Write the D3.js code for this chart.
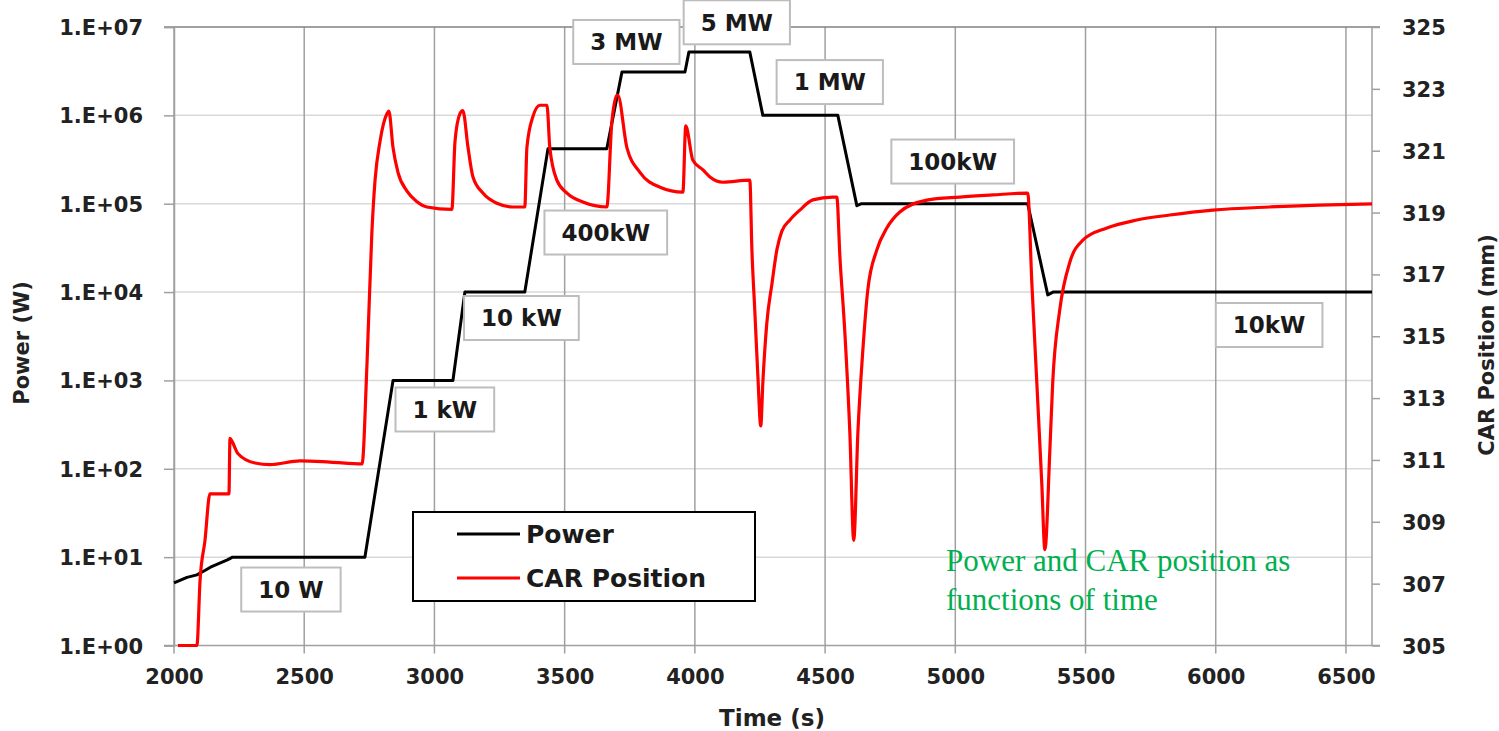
<!DOCTYPE html>
<html>
<head>
<meta charset="utf-8">
<script src="https://cdnjs.cloudflare.com/ajax/libs/d3/7.8.5/d3.min.js"></script>
<style>
    body { margin: 0; background: #fff; }
    .tick-label { font-family: "DejaVu Sans", sans-serif; font-weight: bold; font-size: 21px; fill: #222; }
    .axis-title { font-family: "DejaVu Sans", sans-serif; font-weight: bold; font-size: 21px; fill: #222; }
    .note { font-family: "DejaVu Sans", sans-serif; font-weight: bold; font-size: 23px; fill: #1a1a1a; }
</style>
</head>
<body>
<div id="chart"></div>
<script>
// Time axis (s)
const timeTicks = [2000, 2500, 3000, 3500, 4000, 4500, 5000, 5500, 6000, 6500];
// Power axis (W), log scale
const powerTicks = [1, 1e1, 1e2, 1e3, 1e4, 1e5, 1e6, 1e7];
// CAR position axis (mm)
const carTicks = [305, 307, 309, 311, 313, 315, 317, 319, 321, 323, 325];

// Power (W): [time, watts]
const powerSeries = [
    [2000, 5.1], [2050, 5.9], [2088, 6.3], [2120, 7.1], [2140, 7.7], [2205, 9.3], [2225, 10],
    [2733, 10], [2787, 100], [2841, 1000],
    [3071, 1000], [3117, 10000],
    [3347, 10000], [3436, 4.2e5],
    [3662, 4.2e5], [3720, 3.1e6],
    [3962, 3.1e6], [3977, 5.2e6],
    [4211, 5.2e6], [4261, 1.0e6],
    [4549, 1.0e6], [4622, 9.5e4], [4640, 1.0e5],
    [5278, 1.0e5], [5355, 9.3e3], [5375, 1.0e4],
    [6600, 1.0e4]
];

// CAR position (mm): [time, mm]
const carSeries = [
    [2015, 305.0], [2088, 305.0], [2100, 307.1], [2119, 308.4], [2138, 309.9], [2211, 309.9],
    [2215, 311.7], [2223, 311.6], [2246, 311.2], [2311, 310.9], [2369, 310.85], [2484, 310.97],
    [2599, 310.93], [2722, 310.87], [2741, 314.1], [2760, 318.4], [2772, 320.05], [2791, 321.3],
    [2818, 322.2], [2825, 322.28], [2841, 321.1], [2860, 320.3], [2894, 319.7], [2933, 319.35],
    [2971, 319.18], [3067, 319.1], [3079, 321.3], [3098, 322.2], [3109, 322.3], [3129, 321.1],
    [3148, 320.15], [3186, 319.63], [3240, 319.3], [3301, 319.18], [3347, 319.18], [3355, 321.1],
    [3378, 322.1], [3405, 322.47], [3432, 322.47], [3443, 321.1], [3470, 320.05], [3509, 319.63],
    [3570, 319.34], [3662, 319.18], [3681, 321.9], [3701, 322.8], [3704, 322.8], [3739, 321.1],
    [3789, 320.3], [3866, 319.82], [3954, 319.66], [3965, 321.8], [3992, 320.7], [4031, 320.38],
    [4058, 320.15], [4108, 319.98], [4211, 320.05], [4219, 317.8], [4230, 315.85], [4242, 313.7],
    [4253, 312.1], [4261, 313.5], [4276, 315.4], [4296, 316.7], [4315, 317.8], [4334, 318.4],
    [4365, 318.76], [4403, 319.08], [4453, 319.41], [4530, 319.5], [4545, 319.5], [4557, 317.56],
    [4576, 315.1], [4595, 311.9], [4610, 308.4], [4626, 311.9], [4645, 314.55], [4664, 316.5],
    [4699, 317.8], [4737, 318.5], [4787, 319.02], [4891, 319.4], [5017, 319.5], [5144, 319.57],
    [5278, 319.63], [5294, 316.7], [5313, 313.5], [5332, 310.25], [5344, 308.1], [5363, 311.3],
    [5374, 313.5], [5401, 315.85], [5440, 317.4], [5489, 318.1], [5582, 318.5], [5697, 318.76],
    [5823, 318.92], [5989, 319.08], [6207, 319.18], [6399, 319.24], [6600, 319.28]
];

// Level labels: text, anchor time, anchor power (box centre)
const levelText = ["10 W", "1 kW", "10 kW", "400kW", "3 MW", "5 MW", "1 MW", "100kW", "10kW"];
const levelTime = [2449, 3040, 3334, 3658, 3737, 4161, 4518, 4990, 6205];
const levelPower = [4.3, 469, 5085, 4.72e4, 6.77e6, 1.13e7, 2.38e6, 3.0e5, 4240];

const seriesNames = ["Power", "CAR Position"];
const seriesColors = ["#000000", "#ff0000"];

class PowerCarChart {

    constructor(config) {
        this.config = config;
        this.configureVis();
    }

    configureVis() {
        const vis = this;
        const c = vis.config;

        vis.svg = d3.select(c.parentElement).append("svg")
            .attr("width", c.containerWidth)
            .attr("height", c.containerHeight);

        vis.xScale = d3.scaleLinear().domain([2000, 6600]).range([c.left, c.right]);
        vis.yPower = d3.scaleLog().domain([1, 1e7]).range([c.bottom, c.top]);
        vis.yCar = d3.scaleLinear().domain([305, 325]).range([c.bottom, c.top]);

        vis.renderVis();
    }

    renderVis() {
        const vis = this;
        const c = vis.config;

        // horizontal gridlines (light)
        vis.svg.append("g").selectAll("line")
            .data(powerTicks.slice(1, -1))
            .join("line")
            .attr("x1", c.left).attr("x2", c.right)
            .attr("y1", d => vis.yPower(d)).attr("y2", d => vis.yPower(d))
            .attr("stroke", "#d9d9d9").attr("stroke-width", 1.5);

        // vertical gridlines (darker), running past the bottom as tick marks
        vis.svg.append("g").selectAll("line")
            .data(timeTicks)
            .join("line")
            .attr("x1", d => vis.xScale(d)).attr("x2", d => vis.xScale(d))
            .attr("y1", c.top).attr("y2", c.bottom + 8)
            .attr("stroke", "#a0a0a0").attr("stroke-width", 1.5);

        // frame
        vis.svg.append("line")
            .attr("x1", c.left - 10).attr("x2", c.right + 8)
            .attr("y1", c.top).attr("y2", c.top)
            .attr("stroke", "#808080").attr("stroke-width", 1.5);
        vis.svg.append("line")
            .attr("x1", c.left - 10).attr("x2", c.right + 8)
            .attr("y1", c.bottom).attr("y2", c.bottom)
            .attr("stroke", "#a0a0a0").attr("stroke-width", 1.5);
        vis.svg.append("line")
            .attr("x1", c.right).attr("x2", c.right)
            .attr("y1", c.top).attr("y2", c.bottom)
            .attr("stroke", "#a0a0a0").attr("stroke-width", 1.5);

        // left axis
        const leftAxis = d3.axisLeft(vis.yPower)
            .tickValues(powerTicks)
            .tickSize(10)
            .tickPadding(21)
            .tickFormat(d => "1.E+" + String(Math.round(Math.log10(d))).padStart(2, "0"));
        const gl = vis.svg.append("g")
            .attr("transform", `translate(${c.left},0)`)
            .call(leftAxis);
        gl.select(".domain").attr("stroke", "#a0a0a0").attr("stroke-width", 1.5);
        gl.selectAll(".tick line").attr("stroke", "#a0a0a0").attr("stroke-width", 1.5);
        gl.selectAll(".tick text").attr("class", "tick-label").attr("dy", "0.36em");

        // right axis
        const rightAxis = d3.axisRight(vis.yCar)
            .tickValues(carTicks)
            .tickSize(8)
            .tickPadding(22)
            .tickFormat(d3.format("d"));
        const gr = vis.svg.append("g")
            .attr("transform", `translate(${c.right},0)`)
            .call(rightAxis);
        gr.select(".domain").remove();
        gr.selectAll(".tick line").attr("stroke", "#a0a0a0").attr("stroke-width", 1.5);
        gr.selectAll(".tick text").attr("class", "tick-label").attr("dy", "0.36em");

        // bottom axis labels
        const bottomAxis = d3.axisBottom(vis.xScale)
            .tickValues(timeTicks)
            .tickSize(0)
            .tickPadding(24)
            .tickFormat(d3.format("d"));
        const gb = vis.svg.append("g")
            .attr("transform", `translate(0,${c.bottom})`)
            .call(bottomAxis);
        gb.select(".domain").remove();
        gb.selectAll(".tick text").attr("class", "tick-label");

        // axis titles
        vis.svg.append("text")
            .attr("class", "axis-title")
            .attr("transform", "translate(29,343) rotate(-90)")
            .attr("text-anchor", "middle")
            .text("Power (W)");
        vis.svg.append("text")
            .attr("class", "axis-title")
            .attr("transform", "translate(1494,345) rotate(-90)")
            .attr("text-anchor", "middle")
            .text("CAR Position (mm)");
        vis.svg.append("text")
            .attr("class", "axis-title")
            .attr("x", 772).attr("y", 726)
            .attr("text-anchor", "middle")
            .style("font-size", "23px")
            .text("Time (s)");

        // series
        const powerLine = d3.line()
            .x(d => vis.xScale(d[0]))
            .y(d => vis.yPower(d[1]));
        const carLine = d3.line()
            .curve(d3.curveMonotoneX)
            .x(d => vis.xScale(d[0]))
            .y(d => vis.yCar(d[1]));

        vis.svg.append("path")
            .datum(powerSeries)
            .attr("d", powerLine)
            .attr("fill", "none")
            .attr("stroke", seriesColors[0])
            .attr("stroke-width", 3)
            .attr("stroke-linejoin", "round");

        vis.svg.append("path")
            .datum(carSeries)
            .attr("d", carLine)
            .attr("fill", "none")
            .attr("stroke", seriesColors[1])
            .attr("stroke-width", 3.2)
            .attr("stroke-linejoin", "round");

        // level labels in grey boxes
        const notes = vis.svg.append("g").selectAll("g")
            .data(levelText.map((t, i) => ({ text: t, time: levelTime[i], power: levelPower[i] })))
            .join("g")
            .attr("transform", d => `translate(${vis.xScale(d.time)},${vis.yPower(d.power)})`);
        notes.append("rect")
            .attr("fill", "#fff")
            .attr("stroke", "#bdbdbd")
            .attr("stroke-width", 2);
        notes.append("text")
            .attr("class", "note")
            .attr("text-anchor", "middle")
            .attr("dy", "0.36em")
            .text(d => d.text);
        notes.each(function () {
            const g = d3.select(this);
            const box = g.select("text").node().getBBox();
            g.select("rect")
                .attr("x", box.x - 17).attr("y", -22)
                .attr("width", box.width + 34).attr("height", 44);
        });

        // legend
        const legend = vis.svg.append("g").attr("transform", "translate(413,512)");
        legend.append("rect")
            .attr("width", 342).attr("height", 89)
            .attr("fill", "#fff").attr("stroke", "#000").attr("stroke-width", 2);
        const items = legend.selectAll(".item")
            .data(seriesNames)
            .join("g")
            .attr("class", "item")
            .attr("transform", (d, i) => `translate(0,${22 + i * 44})`);
        items.append("line")
            .attr("x1", 44).attr("x2", 107)
            .attr("stroke", (d, i) => seriesColors[i]).attr("stroke-width", 3);
        items.append("text")
            .attr("class", "note")
            .attr("x", 113).attr("dy", "0.36em")
            .style("font-size", "25px")
            .text(d => d);

        // caption
        const caption = vis.svg.append("text")
            .attr("x", 946).attr("y", 571)
            .style("font-family", "'Liberation Serif', 'Times New Roman', serif")
            .style("font-size", "31px")
            .attr("fill", "#00b050");
        caption.append("tspan").attr("x", 946).text("Power and CAR position as");
        caption.append("tspan").attr("x", 946).attr("dy", 39).text("functions of time");
    }
}

new PowerCarChart({
    parentElement: "#chart",
    containerWidth: 1499,
    containerHeight: 731,
    left: 174,
    right: 1372,
    top: 27,
    bottom: 645.5
});
</script>
</body>
</html>
